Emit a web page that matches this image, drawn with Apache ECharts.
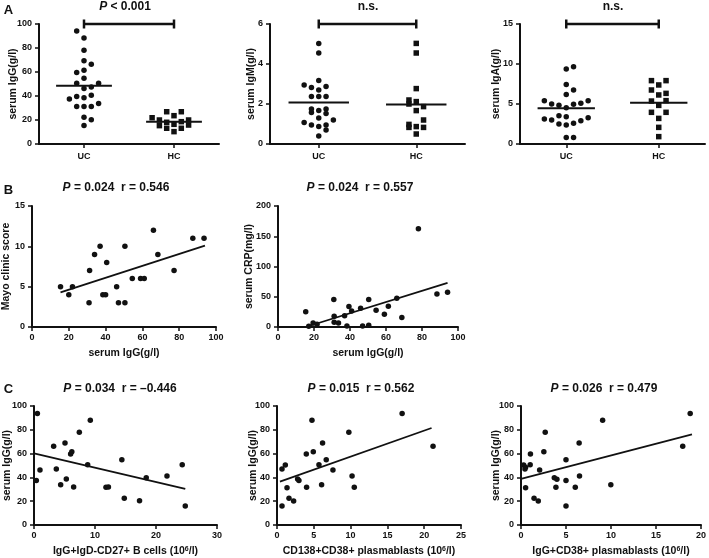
<!DOCTYPE html>
<html>
<head>
<meta charset="utf-8">
<script src="https://cdn.jsdelivr.net/npm/echarts@6/dist/echarts.min.js"></script>
<style>
  html, body { margin: 0; padding: 0; background: #fff; }
  #main { width: 709px; height: 558px; }
</style>
</head>
<body>
<div id="main"></div>
<script>
// ---- A: serum Ig, UC vs HC (value + swarm column) ----
var groups = ['UC', 'HC'];

var igG_UC = [94.2, 88.4, 78.1, 69.3, 66.5, 61.5, 59.6, 54.8, 50.7, 50.7, 47.4, 46.3, 40.7, 39.6, 38.5, 37.4, 33.8, 31.3, 31.3, 31.3, 22.2, 20.2, 15.5];
var igG_UC_col = [-1, 0, 0, 0, 1, 0, -1, 0, -1, 2, 1, 0, 1, -1, 0, -2, 2, -1, 0, 1, 0, 1, 0];
var igG_HC = [26.9, 26.9, 23.6, 21.9, 20, 20, 18.1, 18.6, 16.4, 15.3, 15.8, 13.1, 13.1, 10.3];
var igG_HC_col = [-1, 1, 0, -3, -2, 2, -1, 1, 0, -2, 2, -1, 1, 0];

var igM_UC = [5.03, 4.55, 3.17, 2.95, 2.83, 2.7, 2.87, 2.37, 2.37, 2.37, 1.75, 1.67, 1.75, 1.58, 1.53, 1.3, 1.2, 1.07, 0.95, 0.87, 0.95, 0.7, 0.4];
var igM_UC_col = [0, 0, 0, -2, -1, 0, 1, -1, 0, 1, -1, 0, 1, -1, 1, 0, 2, -2, -1, 0, 1, 1, 0];
var igM_HC = [5.03, 4.55, 2.77, 2.2, 2.12, 2.0, 1.87, 1.67, 1.2, 0.98, 0.83, 0.87, 0.83, 0.5];
var igM_HC_col = [0, 0, 0, -1, 0, -1, 1, 0, 1, -1, -1, 0, 1, 0];

var igA_UC = [9.38, 9.67, 7.45, 6.75, 6.2, 5.42, 5.42, 5.0, 4.83, 4.96, 5.08, 4.54, 3.54, 3.4, 3.12, 3.0, 3.29, 2.5, 2.38, 2.58, 2.92, 0.8, 0.8];
var igA_UC_col = [0, 1, 0, 1, 0, -3, 3, -2, -1, 1, 2, 0, -1, 0, -3, -2, 3, -1, 0, 1, 2, 0, 1];
var igA_HC = [7.92, 7.92, 7.38, 6.75, 6.33, 6.13, 5.37, 5.42, 4.83, 3.96, 3.96, 3.2, 2.08, 0.92];
var igA_HC_col = [-1, 1, 0, -1, 1, 0, -1, 1, 0, -1, 1, 0, 0, 0];

// horizontal bars drawn over each group (UC, HC)
var barIgG = [48.5, 18.5];
var barIgM = [2.07, 1.98];
var barIgA = [4.46, 5.17];

// ---- B: correlations with serum IgG ----
var mayoX = [15.5, 20, 22, 31, 31.3, 34, 37, 38.5, 40, 40.6, 46, 47, 50.5, 50.5, 54.5, 59, 61, 66, 68.4, 77.2, 87.4, 93.5];
var mayoY = [5, 4, 5, 3, 7, 9, 10, 4, 4, 8, 5, 3, 10, 3, 6, 6, 6, 12, 9, 7, 11, 11];
var mayoFit = [[15.5, 4.3], [94, 10.1]];

var crpX = [15.4, 17.1, 19.5, 21.7, 31.0, 31.2, 31.2, 33.6, 37.0, 38.3, 39.4, 40.9, 45.9, 47.0, 50.4, 50.4, 54.5, 59.1, 61.3, 66.0, 68.8, 78.0, 88.3, 94.2];
var crpY = [25.4, 1.1, 6.6, 4.4, 45.3, 17.7, 7.7, 6.6, 18.8, 1.7, 33.7, 26.5, 30.9, 1.7, 45.3, 2.8, 27.6, 21.0, 34.3, 47.5, 15.5, 162.4, 54.7, 57.5];
var crpFit = [[15.4, 0], [94.2, 72.9]];

// ---- C: serum IgG vs B cell subsets ----
var memX = [0.55, 0.38, 0.98, 3.22, 3.66, 4.37, 5.08, 5.3, 6.0, 6.2, 6.5, 7.43, 8.8, 9.23, 11.8, 12.2, 14.4, 14.8, 18.4, 17.3, 21.8, 24.3, 24.8];
var memY = [93.8, 37.5, 46.2, 66.1, 47.1, 33.9, 68.9, 38.7, 59.7, 61.6, 31.9, 77.9, 50.7, 88.0, 31.7, 31.9, 54.9, 22.4, 39.8, 20.4, 41.2, 50.7, 16.0];
var memFit = [[0, 60.2], [24.8, 30.3]];

var pcX = [0.68, 0.68, 1.13, 1.36, 1.63, 2.26, 2.8, 2.98, 4.02, 3.98, 4.75, 4.93, 5.7, 6.06, 6.19, 6.69, 7.6, 9.76, 10.2, 10.5, 17.0, 21.2];
var pcY = [16.0, 47.1, 50.4, 31.4, 22.4, 20.2, 38.7, 37.5, 31.7, 59.7, 88.0, 61.6, 50.7, 33.9, 68.9, 54.9, 46.2, 77.9, 41.2, 31.7, 93.8, 66.1];
var pcFit = [[0.4, 36.5], [21.0, 81.5]];

var pbX = [0.29, 0.51, 0.44, 0.51, 1.02, 1.05, 1.45, 1.92, 2.07, 2.54, 2.69, 3.7, 3.88, 3.99, 5.0, 5.0, 5.0, 6.03, 6.46, 6.5, 9.07, 9.98, 17.97, 18.8];
var pbY = [50.4, 48.5, 47.1, 31.4, 50.7, 59.7, 22.4, 20.2, 46.2, 61.6, 77.9, 39.8, 31.7, 38.4, 54.9, 37.5, 16.0, 31.7, 68.9, 41.2, 88.0, 33.9, 66.1, 93.8];
var pbFit = [[0, 38.7], [19.0, 76.2]];

// ---- layout & style ----
var FONT = 'Liberation Sans';
var ink = '#111';

var grids = [
  {left: 39, top: 24, width: 180, height: 120},   // A IgG
  {left: 270, top: 24, width: 195, height: 120},  // A IgM
  {left: 520, top: 24, width: 185, height: 120},  // A IgA
  {left: 31, top: 206, width: 185, height: 121},  // B Mayo
  {left: 278, top: 206, width: 180, height: 121}, // B CRP
  {left: 34, top: 406, width: 183, height: 119},  // C memory
  {left: 277, top: 406, width: 184, height: 119}, // C CD138
  {left: 521, top: 406, width: 183, height: 119}  // C IgG+CD38
];

var supRich = {
  sup: {fontFamily: FONT, fontWeight: 'bold', fontSize: 7, color: ink, verticalAlign: 'top'}
};

function lineStyleAxis() {
  return {show: true, onZero: false, lineStyle: {color: ink, width: 2}};
}

function valueY(gi, max, step, name, gap) {
  return {
    type: 'value', gridIndex: gi, min: 0, max: max, interval: step,
    name: name, nameLocation: 'middle', nameGap: gap, nameMoveOverlap: false,
    nameTextStyle: {fontFamily: FONT, fontWeight: 'bold', fontSize: 10.5, color: ink},
    axisLine: lineStyleAxis(),
    axisTick: {show: true, length: 4, lineStyle: {color: ink, width: 1.5}},
    axisLabel: {fontFamily: FONT, fontWeight: 'bold', fontSize: 9, color: ink, margin: 7},
    splitLine: {show: false}
  };
}

function valueX(gi, max, step, name) {
  return {
    type: 'value', gridIndex: gi, min: 0, max: max, interval: step,
    name: name, nameLocation: 'middle', nameGap: 21, nameMoveOverlap: false,
    nameTextStyle: {fontFamily: FONT, fontWeight: 'bold', fontSize: 10.5, color: ink, rich: supRich},
    axisLine: lineStyleAxis(),
    axisTick: {show: true, length: 4, lineStyle: {color: ink, width: 1.5}},
    axisLabel: {fontFamily: FONT, fontWeight: 'bold', fontSize: 9, color: ink, margin: 6},
    splitLine: {show: false}
  };
}

// group axis for the dot plots: UC at 0.5, HC at 1.5
function groupX(gi) {
  return {
    type: 'value', gridIndex: gi, min: 0, max: 2,
    axisLine: lineStyleAxis(),
    axisTick: {show: true, length: 4, customValues: [0.5, 1.5], lineStyle: {color: ink, width: 1.5}},
    axisLabel: {
      fontFamily: FONT, fontWeight: 'bold', fontSize: 9, color: ink, margin: 8,
      customValues: [0.5, 1.5],
      formatter: function (v) { return groups[v < 1 ? 0 : 1]; }
    },
    splitLine: {show: false}
  };
}

function swarm(gi, vals, cols, center, symbol) {
  var step = 7.3 / (grids[gi].width / 2);
  return {
    type: 'scatter', xAxisIndex: gi, yAxisIndex: gi, symbol: symbol,
    symbolSize: 5.5, silent: true,
    itemStyle: {color: ink, opacity: 1},
    data: vals.map(function (v, i) { return [center + cols[i] * step, v]; })
  };
}

function segment(gi, pts, width, extra) {
  var s = {
    type: 'line', xAxisIndex: gi, yAxisIndex: gi, data: pts, silent: true,
    symbol: 'none', clip: false,
    lineStyle: {color: ink, width: width}
  };
  if (extra) Object.assign(s, extra);
  return s;
}

function dots(gi, xs, ys) {
  return {
    type: 'scatter', xAxisIndex: gi, yAxisIndex: gi, symbolSize: 5.5, silent: true,
    itemStyle: {color: ink, opacity: 1},
    data: xs.map(function (x, i) { return [x, ys[i]]; })
  };
}

function bars(gi, vals) {
  return [
    segment(gi, [[0.5 - 0.31, vals[0]], [0.5 + 0.31, vals[0]]], 2),
    segment(gi, [[1.5 - 0.31, vals[1]], [1.5 + 0.31, vals[1]]], 2)
  ];
}

function bracket(gi, top) {
  return segment(gi, [[0.5, top], [1.5, top]], 2.5, {symbol: 'rect', symbolSize: [2.5, 9], itemStyle: {color: ink}});
}

function title(text, x, y, size) {
  return {
    text: text, left: x, top: y, padding: 0,
    textAlign: 'center', textVerticalAlign: 'middle',
    textStyle: {
      fontFamily: FONT, fontWeight: 'bold', fontSize: size || 12, color: ink,
      rich: {i: {fontFamily: FONT, fontWeight: 'bold', fontStyle: 'italic', fontSize: size || 12, color: ink}}
    }
  };
}

var option = {
  animation: false,
  backgroundColor: '#fff',
  title: [
    title('A', 8.5, 10, 13), title('B', 8.5, 190, 13), title('C', 8.5, 389, 13),
    title('{i|P} < 0.001', 125, 7),
    title('n.s.', 368, 7),
    title('n.s.', 613, 7),
    title('{i|P} = 0.024  r = 0.546', 116, 188),
    title('{i|P} = 0.024  r = 0.557', 360, 188),
    title('{i|P} = 0.034  r = \u20130.446', 120, 389),
    title('{i|P} = 0.015  r = 0.562', 361, 389),
    title('{i|P} = 0.026  r = 0.479', 604, 389)
  ],
  grid: grids,
  xAxis: [
    groupX(0), groupX(1), groupX(2),
    valueX(3, 100, 20, 'serum IgG(g/l)'),
    valueX(4, 100, 20, 'serum IgG(g/l)'),
    valueX(5, 30, 10, 'IgG+IgD-CD27+ B cells (10{sup|6}/l)'),
    valueX(6, 25, 5, 'CD138+CD38+ plasmablasts (10{sup|6}/l)'),
    valueX(7, 20, 5, 'IgG+CD38+ plasmablasts (10{sup|6}/l)')
  ],
  yAxis: [
    valueY(0, 100, 20, 'serum IgG(g/l)', 20),
    valueY(1, 6, 2, 'serum IgM(g/l)', 13),
    valueY(2, 15, 5, 'serum IgA(g/l)', 18),
    valueY(3, 15, 5, 'Mayo clinic score', 20),
    valueY(4, 200, 50, 'serum CRP(mg/l)', 23),
    valueY(5, 100, 20, 'serum IgG(g/l)', 21),
    valueY(6, 100, 20, 'serum IgG(g/l)', 18),
    valueY(7, 100, 20, 'serum IgG(g/l)', 19)
  ],
  series: [].concat(
    [bracket(0, 100), bracket(1, 6), bracket(2, 15)],
    bars(0, barIgG), bars(1, barIgM), bars(2, barIgA),
    [
      swarm(0, igG_UC, igG_UC_col, 0.5, 'circle'),
      swarm(0, igG_HC, igG_HC_col, 1.5, 'rect'),
      swarm(1, igM_UC, igM_UC_col, 0.5, 'circle'),
      swarm(1, igM_HC, igM_HC_col, 1.5, 'rect'),
      swarm(2, igA_UC, igA_UC_col, 0.5, 'circle'),
      swarm(2, igA_HC, igA_HC_col, 1.5, 'rect'),
      dots(3, mayoX, mayoY), segment(3, mayoFit, 1.8),
      dots(4, crpX, crpY), segment(4, crpFit, 1.8),
      dots(5, memX, memY), segment(5, memFit, 1.8),
      dots(6, pcX, pcY), segment(6, pcFit, 1.8),
      dots(7, pbX, pbY), segment(7, pbFit, 1.8)
    ]
  )
};

var chart = echarts.init(document.getElementById('main'), null, {renderer: 'canvas'});
chart.setOption(option);
</script>
</body>
</html>
